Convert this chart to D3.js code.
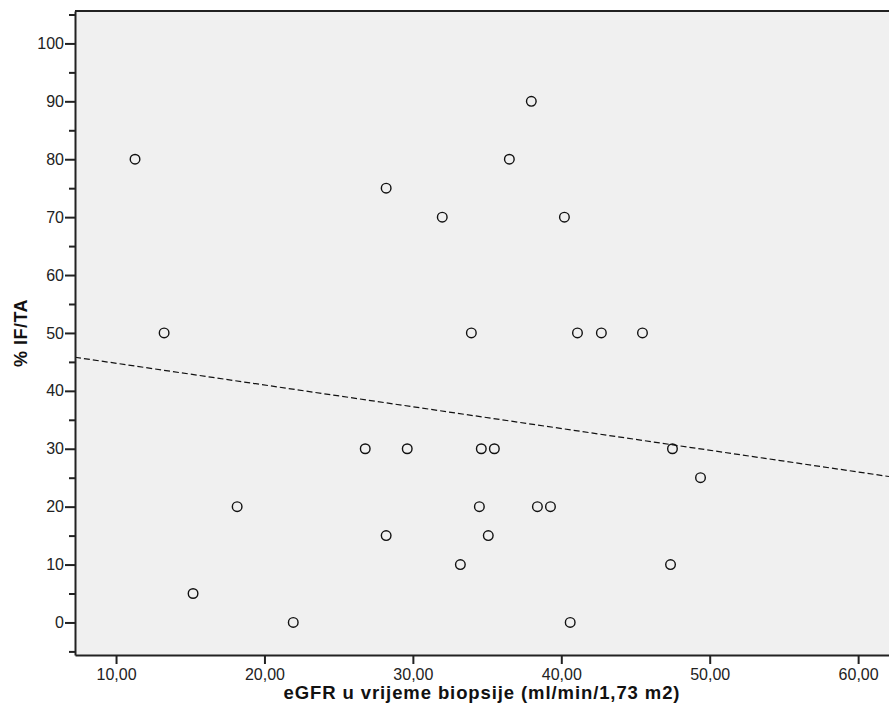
<!DOCTYPE html>
<html>
<head>
<meta charset="utf-8">
<script src="https://cdn.jsdelivr.net/npm/d3@7"></script>
<style>
  body { margin: 0; background: #fff; }
  svg { display: block; font-family: "Liberation Sans", Arial, sans-serif; }
</style>
</head>
<body>
<script>
// eGFR u vrijeme biopsije (x) i % IF/TA (y)
const egfr = [11.28, 13.24, 15.19, 18.16, 21.94, 26.79, 28.2, 28.2, 29.62, 31.98,
  33.2, 33.94, 34.48, 34.61, 35.08, 35.49, 36.5, 37.98, 38.39, 39.27,
  40.21, 40.6, 41.09, 42.7, 45.47, 47.36, 47.49, 49.38];
const ifta = [80, 50, 5, 20, 0, 30, 15, 75, 30, 70,
  10, 50, 20, 30, 15, 30, 80, 90, 20, 20,
  70, 0, 50, 50, 50, 10, 30, 25];

// linearni pravac kako je očitan sa slike: y = a + b*x
const fitLine = [48.52, -0.3756];

const xTicks = [10, 20, 30, 40, 50, 60];
const yTicks = [0, 10, 20, 30, 40, 50, 60, 70, 80, 90, 100];
const yMinor = [-5, 5, 15, 25, 35, 45, 55, 65, 75, 85, 95, 105];

const W = 889, H = 724;
const pLeft = 75, pTop = 11, pRight = 889, pBottom = 655;

const svg = d3.select("body").append("svg")
  .attr("width", W)
  .attr("height", H);

const x = d3.scaleLinear().domain([7.235, 62.08]).range([pLeft, pRight]);
const y = d3.scaleLinear().domain([-5.62, 105.6]).range([pBottom, pTop]);

// pozadina
svg.append("rect")
  .attr("x", pLeft).attr("y", pTop)
  .attr("width", pRight - pLeft + 2).attr("height", pBottom - pTop)
  .attr("fill", "#f0f0f0");

// regresijski pravac
const [a, b] = fitLine;
const xd = x.domain();

svg.append("line")
  .attr("x1", x(xd[0])).attr("y1", y(a + b * xd[0]))
  .attr("x2", x(xd[1])).attr("y2", y(a + b * xd[1]))
  .attr("stroke", "#111")
  .attr("stroke-width", 1.2)
  .attr("stroke-dasharray", "6,3");

// točke
svg.selectAll("circle.pt")
  .data(egfr.map((v, i) => ({ x: v, y: ifta[i] })))
  .enter()
  .append("circle")
  .attr("class", "pt")
  .attr("cx", (d) => x(d.x))
  .attr("cy", (d) => y(d.y))
  .attr("r", 4.8)
  .attr("fill", "none")
  .attr("stroke", "#111")
  .attr("stroke-width", 1.4);

// okvir gore
svg.append("line")
  .attr("x1", pLeft).attr("x2", pRight)
  .attr("y1", pTop).attr("y2", pTop)
  .attr("stroke", "#222").attr("stroke-width", 2);

// osi
const fmt = (d) => d3.format(".2f")(d).replace(".", ",");

const xAxis = svg.append("g")
  .attr("transform", `translate(0,${pBottom})`)
  .call(d3.axisBottom(x).tickValues(xTicks).tickSize(9).tickSizeOuter(0).tickFormat(fmt));

const yMinorG = svg.append("g")
  .attr("transform", `translate(${pLeft},0)`)
  .call(d3.axisLeft(y).tickValues(yMinor).tickSize(6).tickSizeOuter(0).tickFormat(""));
yMinorG.select(".domain").remove();

const yAxis = svg.append("g")
  .attr("transform", `translate(${pLeft},0)`)
  .call(d3.axisLeft(y).tickValues(yTicks).tickSize(10).tickSizeOuter(0));

[xAxis, yAxis, yMinorG].forEach((g) => {
  g.selectAll(".tick line").attr("stroke", "#222").attr("stroke-width", 2);
  g.selectAll(".tick text").attr("fill", "#222").attr("font-size", 16)
    .attr("font-family", "Liberation Sans, Arial, sans-serif");
});
xAxis.select(".domain").attr("stroke", "#222").attr("stroke-width", 2);
yAxis.select(".domain").attr("stroke", "#222").attr("stroke-width", 2);
xAxis.selectAll(".tick text").attr("y", 14).attr("dy", "0.71em");
yAxis.selectAll(".tick text").attr("x", -11);

// naslovi osi
svg.append("text")
  .attr("x", (pLeft + pRight) / 2)
  .attr("y", 699)
  .attr("text-anchor", "middle")
  .attr("font-size", 18.5)
  .attr("font-weight", "bold")
  .attr("letter-spacing", 0.9)
  .attr("fill", "#111")
  .text("eGFR u vrijeme biopsije (ml/min/1,73 m2)");

svg.append("text")
  .attr("transform", `translate(27,${(pTop + pBottom) / 2}) rotate(-90)`)
  .attr("text-anchor", "middle")
  .attr("font-size", 18)
  .attr("font-weight", "bold")
  .attr("letter-spacing", 0.5)
  .attr("fill", "#111")
  .text("% IF/TA");
</script>
</body>
</html>
